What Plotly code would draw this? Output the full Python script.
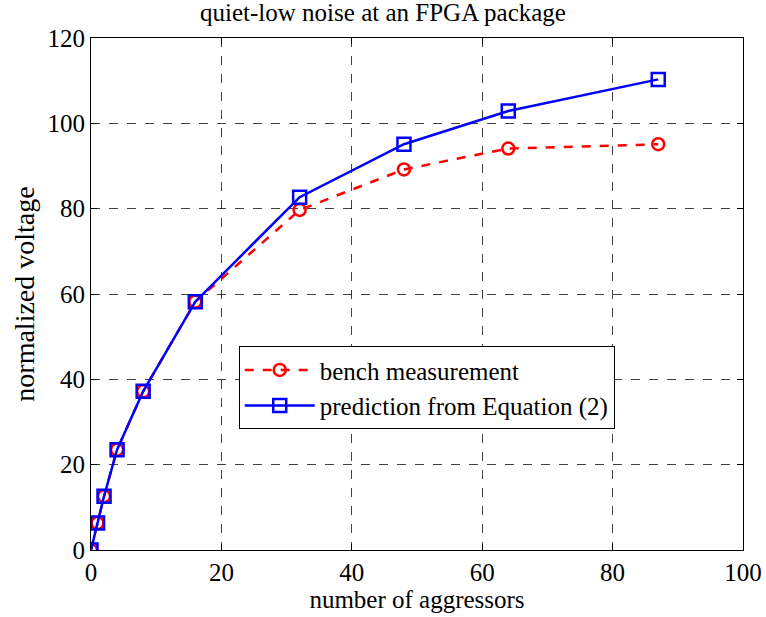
import plotly.graph_objects as go

aggressors = [0, 1, 2, 4, 8, 16, 32, 48, 64, 87]
bench = [0, 6.3, 12.6, 23.5, 37.2, 58.2, 79.7, 89.2, 94.1, 95.1]
prediction = [0, 6.3, 12.6, 23.5, 37.2, 58.2, 82.7, 95.1, 102.9, 110.3]

font_family = "Liberation Serif, Times New Roman, serif"

fig = go.Figure()
fig.add_trace(go.Scatter(
    x=aggressors, y=bench, name="bench measurement",
    mode="lines+markers",
    line=dict(color="#ff0000", width=2.5, dash="dash"),
    marker=dict(symbol="circle-open", size=12, color="#ff0000", line=dict(width=2.5)),
))
fig.add_trace(go.Scatter(
    x=aggressors, y=prediction, name="prediction from Equation (2)",
    mode="lines+markers",
    line=dict(color="#0000ff", width=2.5),
    marker=dict(symbol="square-open", size=13, color="#0000ff", line=dict(width=2.5)),
))

axis_common = dict(
    showline=True, linecolor="black", linewidth=1.2, mirror="ticks",
    ticks="inside", ticklen=6, tickcolor="black",
    showgrid=True, gridcolor="rgba(0,0,0,0.75)", gridwidth=1, griddash="dash",
    zeroline=False, automargin=False,
    tickfont=dict(family=font_family, size=25, color="black"),
)

fig.update_layout(
    width=766, height=617,
    margin=dict(l=91, r=23, t=38, b=67),
    paper_bgcolor="white", plot_bgcolor="white",
    title=dict(text="quiet-low noise at an FPGA package", x=0.5, xanchor="center",
               y=0.995, yanchor="top",
               font=dict(family=font_family, size=25, color="black")),
    xaxis=dict(range=[0, 100], dtick=20,
               title=dict(text="number of aggressors", standoff=4,
                          font=dict(family=font_family, size=25, color="black")),
               **axis_common),
    yaxis=dict(range=[0, 120], dtick=20,
               title=dict(text="normalized voltage", standoff=4,
                          font=dict(family=font_family, size=28, color="black")),
               **axis_common),
    legend=dict(x=0.2266, y=0.398, xanchor="left", yanchor="top",
                bgcolor="white", bordercolor="black", borderwidth=1,
                font=dict(family=font_family, size=25, color="black"),
                itemwidth=70, tracegroupgap=0),
    showlegend=True,
)

fig.write_html("out.html")
